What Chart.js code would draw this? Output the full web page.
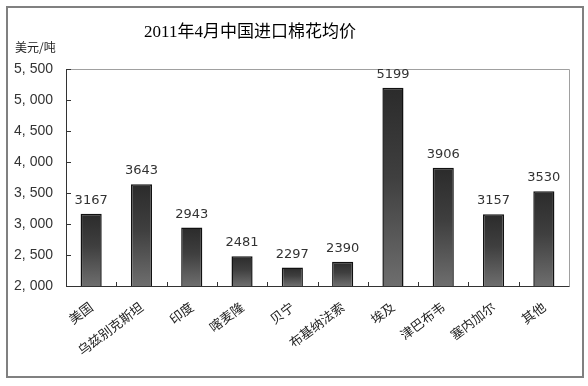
<!DOCTYPE html>
<html>
<head>
<meta charset="utf-8">
<script src="https://cdn.jsdelivr.net/npm/chart.js@4/dist/chart.umd.min.js"></script>
<style>
html,body{margin:0;padding:0;background:#fff;}
canvas{display:block;}
</style>
</head>
<body>
<canvas id="c" width="588" height="386"></canvas>
<script>
const titleText = '2011年4月中国进口棉花均价';
const unitText = '美元/吨';
const categories = ['美国','乌兹别克斯坦','印度','喀麦隆','贝宁','布基纳法索','埃及','津巴布韦','塞内加尔','其他'];
const prices = [3167,3643,2943,2481,2297,2390,5199,3906,3157,3530];
const yMin = 2000;
const yMax = 5500;
const yStep = 500;

const CJK = "'Noto Sans CJK SC'";

function barGradient(ctx) {
  const chart = ctx.chart;
  const ys = chart.scales.y;
  if (!ys || ctx.type !== 'data') return '#444';
  const top = ys.getPixelForValue(ctx.raw);
  const bottom = ys.getPixelForValue(yMin);
  if (!isFinite(top) || !isFinite(bottom) || top === bottom) return '#444';
  const g = chart.ctx.createLinearGradient(0, top, 0, bottom);
  g.addColorStop(0, '#2b2b2b');
  g.addColorStop(0.45, '#3f3f3f');
  g.addColorStop(1, '#6e6e6e');
  return g;
}

const decor = {
  id: 'decor',
  beforeDraw(chart) {
    const c = chart.ctx;
    c.save();
    c.fillStyle = '#fff';
    c.fillRect(0, 0, chart.width, chart.height);
    c.restore();
  },
  afterDatasetsDraw(chart) {
    const c = chart.ctx;
    const a = chart.chartArea;
    const xs = chart.scales.x, ys = chart.scales.y;
    c.save();
    c.strokeStyle = '#a0a0a0';
    c.lineWidth = 1;
    c.beginPath();
    c.moveTo(Math.round(a.left) + 0.5, Math.round(a.top) + 0.5);
    c.lineTo(Math.round(a.right) + 0.5, Math.round(a.top) + 0.5);
    c.lineTo(Math.round(a.right) + 0.5, Math.round(a.bottom) + 0.5);
    c.stroke();
    c.strokeStyle = '#333';
    c.beginPath();
    c.moveTo(Math.round(a.left) + 0.5, Math.round(a.top) + 0.5);
    c.lineTo(Math.round(a.left) + 0.5, Math.round(a.bottom) + 0.5);
    c.lineTo(Math.round(a.right) + 0.5, Math.round(a.bottom) + 0.5);
    c.stroke();
    c.beginPath();
    for (let v = yMin; v <= yMax; v += yStep) {
      const y = Math.round(ys.getPixelForValue(v)) + 0.5;
      c.moveTo(a.left, y);
      c.lineTo(a.left + 5, y);
    }
    for (let i = 1; i < categories.length; i++) {
      const x = Math.round((xs.getPixelForValue(i - 1) + xs.getPixelForValue(i)) / 2) + 0.5;
      c.moveTo(x, a.bottom);
      c.lineTo(x, a.bottom - 4);
    }
    c.stroke();
    const meta = chart.getDatasetMeta(0);
    c.fillStyle = '#333';
    c.font = "13px 'DejaVu Sans', " + CJK;
    c.textAlign = 'center';
    c.textBaseline = 'alphabetic';
    meta.data.forEach((el, i) => {
      c.fillText(String(prices[i]), el.x, el.y - 10);
    });
    c.fillStyle = '#000';
    c.font = "17px 'Liberation Serif', " + CJK;
    c.textAlign = 'center';
    c.textBaseline = 'middle';
    c.fillText(titleText, 250, 33);
    c.font = "12px " + CJK;
    c.fillStyle = '#222';
    c.textAlign = 'left';
    c.fillText(unitText, 15, 47);
    c.strokeStyle = '#808080';
    c.lineWidth = 2;
    c.strokeRect(7, 7, 576, 370);
    c.restore();
  }
};

new Chart(document.getElementById('c'), {
  type: 'bar',
  data: {
    labels: categories,
    datasets: [{
      data: prices,
      backgroundColor: barGradient,
      borderColor: '#111',
      borderWidth: 1.5,
      borderSkipped: false,
      categoryPercentage: 1,
      barPercentage: 0.42
    }]
  },
  options: {
    responsive: false,
    animation: false,
    devicePixelRatio: 1,
    layout: { padding: { left: 0, right: 19, top: 69, bottom: 0 } },
    plugins: { legend: { display: false }, title: { display: false }, tooltip: { enabled: false } },
    scales: {
      x: {
        grid: { display: false, drawTicks: false },
        border: { display: false },
        ticks: {
          color: '#222',
          font: { family: CJK, size: 13 },
          minRotation: 37,
          maxRotation: 37,
          padding: 13,
          autoSkip: false
        },
        afterFit(s) { s.height = 100; }
      },
      y: {
        min: yMin,
        max: yMax,
        grid: { display: false, drawTicks: false },
        border: { display: false },
        ticks: {
          stepSize: yStep,
          color: '#333',
          padding: 13,
          font: { family: "'Liberation Sans'", size: 14 },
          callback: v => v.toLocaleString('en-US').replace(',', ', ')
        },
        afterFit(s) { s.width = 66; }
      }
    }
  },
  plugins: [decor]
});
</script>
</body>
</html>
